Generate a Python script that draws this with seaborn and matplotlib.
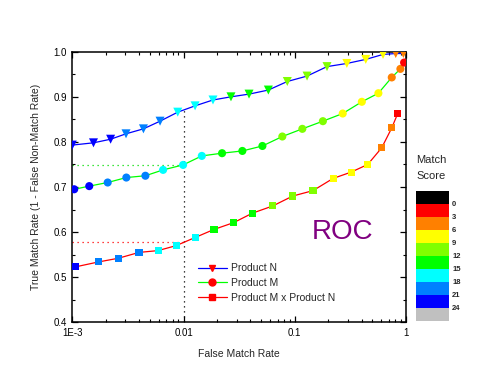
import numpy as np
import pandas as pd
import matplotlib
matplotlib.use("Agg")
import matplotlib.pyplot as plt
from matplotlib.colors import ListedColormap
from matplotlib.lines import Line2D
from matplotlib.ticker import LogLocator, MultipleLocator, FixedLocator, FixedFormatter, NullFormatter
import seaborn as sns

############ data ############
# false match rate / true match rate / match score threshold of every point
n_fmr = [0.001, 0.00155, 0.00221, 0.00304, 0.00436, 0.00615, 0.00887, 0.0127, 0.0184, 0.0267,
         0.0388, 0.0579, 0.0857, 0.129, 0.195, 0.294, 0.435, 0.622, 0.809, 0.948]
n_tmr = [0.793, 0.798, 0.806, 0.818, 0.829, 0.846, 0.866, 0.880, 0.893, 0.900,
         0.906, 0.915, 0.934, 0.946, 0.967, 0.974, 0.983, 0.994, 0.996, 0.996]
n_score = [23, 22, 21, 20, 19, 18, 17, 16, 15, 14, 13, 12, 11, 10, 9, 8, 7, 6, 5, 4]

m_fmr = [0.00104, 0.00142, 0.00208, 0.00306, 0.00454, 0.00655, 0.00991, 0.0146, 0.0222, 0.0338,
         0.0512, 0.0773, 0.117, 0.179, 0.270, 0.401, 0.565, 0.745, 0.891, 0.962]
m_tmr = [0.695, 0.702, 0.710, 0.721, 0.725, 0.738, 0.749, 0.769, 0.775, 0.780,
         0.791, 0.812, 0.829, 0.846, 0.863, 0.889, 0.908, 0.943, 0.962, 0.976]
m_score = [22, 21, 20, 19, 18, 17, 16, 15, 14, 13, 12, 11, 10, 9, 8, 7, 6, 5, 4, 2]

mn_fmr = [0.00107, 0.00173, 0.00259, 0.00398, 0.00590, 0.00857, 0.0127, 0.0188, 0.0282, 0.0416,
          0.0634, 0.0959, 0.146, 0.221, 0.321, 0.453, 0.605, 0.745, 0.843]
mn_tmr = [0.523, 0.534, 0.542, 0.555, 0.559, 0.570, 0.588, 0.606, 0.621, 0.642,
          0.658, 0.680, 0.692, 0.719, 0.733, 0.750, 0.787, 0.831, 0.863]
mn_score = [21, 20, 19, 18, 17, 16, 15, 14, 13, 12, 11, 10, 9, 8, 7, 6, 5, 4, 2]

products = ["Product N", "Product M", "Product M x Product N"]
line_colors = ["#0000FF", "#00FF00", "#FF0000"]
markers = ["v", "o", "s"]
msizes = [42, 34, 26]

# colour scale, top to bottom (black on top, grey at the bottom)
scale_colors = ["#000000", "#FF0000", "#FF8000", "#FFFF00", "#80FF00",
                "#00FF00", "#00FFFF", "#0080FF", "#0000FF", "#C0C0C0"]
scale_labels = ["0", "3", "6", "9", "12", "15", "18", "21", "24"]
# bin k (score in [3k, 3k+3)) -> colour
bin_colors = {k: scale_colors[k + 1] for k in range(9)}

frames = []
for name, x, y, s in [(products[0], n_fmr, n_tmr, n_score),
                      (products[1], m_fmr, m_tmr, m_score),
                      (products[2], mn_fmr, mn_tmr, mn_score)]:
    d = pd.DataFrame({"fmr": x, "tmr": y, "score": s})
    d["product"] = name
    d["bin"] = d["score"] // 3
    frames.append(d)
data = pd.concat(frames, ignore_index=True)

############ plot ############
sns.set_style("ticks")
plt.rcParams["font.family"] = ["Liberation Sans", "DejaVu Sans"]

fig = plt.figure(figsize=(4.96, 3.86), dpi=100)
ax = fig.add_axes([0.1458, 0.165, 0.6727, 0.701])

for i, name in enumerate(products):
    d = data[data["product"] == name]
    sns.lineplot(data=d, x="fmr", y="tmr", color=line_colors[i], lw=0.9,
                 sort=False, estimator=None, ax=ax, zorder=2)
    sns.scatterplot(data=d, x="fmr", y="tmr", hue="bin", palette=bin_colors,
                    marker=markers[i], s=msizes[i], linewidth=0, legend=False,
                    ax=ax, zorder=3)

ax.set_xscale("log")
ax.set_xlim(1e-3, 1)
ax.set_ylim(0.4, 1.0)

# dotted guides at FMR = 0.01
lx = np.log10(0.01)
y_n = np.interp(lx, np.log10(n_fmr), n_tmr)
y_m = np.interp(lx, np.log10(m_fmr), m_tmr)
y_mn = np.interp(lx, np.log10(mn_fmr), mn_tmr)
ax.plot([0.01, 0.01], [0.4, y_n], color="black", ls=(0, (1, 3)), lw=0.9, zorder=1)
ax.plot([1e-3, 0.01], [y_m, y_m], color="#00DD00", ls=(0, (1, 3)), lw=0.9, zorder=1)
ax.plot([1e-3, 0.01], [y_mn, y_mn], color="#FF0000", ls=(0, (1, 3)), lw=0.9, zorder=1)

ax.xaxis.set_major_locator(FixedLocator([1e-3, 1e-2, 1e-1, 1]))
ax.xaxis.set_major_formatter(FixedFormatter(["1E-3", "0.01", "0.1", "1"]))
ax.xaxis.set_minor_locator(LogLocator(base=10, subs=np.arange(2, 10)))
ax.xaxis.set_minor_formatter(NullFormatter())
ax.yaxis.set_major_locator(MultipleLocator(0.1))
ax.yaxis.set_minor_locator(MultipleLocator(0.05))
ax.yaxis.set_major_formatter(plt.FormatStrFormatter("%.1f"))

for sp in ax.spines.values():
    sp.set_visible(True)
    sp.set_linewidth(1.1)
    sp.set_color("black")
ax.tick_params(which="both", direction="in", top=True, right=True, colors="black")
ax.tick_params(which="major", length=4, width=0.9, labelsize=7, pad=4)
ax.tick_params(which="minor", length=2.3, width=0.8)

ax.set_xlabel("False Match Rate", fontsize=7.5, labelpad=8)
ax.set_ylabel("True Match Rate (1 - False Non-Match Rate)", fontsize=7.5, labelpad=9)

ax.text(0.81, 0.334, "ROC", transform=ax.transAxes, color="#800080",
        fontsize=20, ha="center", va="center")

handles = [Line2D([], [], color=line_colors[i], lw=0.9, marker=markers[i],
                  markerfacecolor="#FF0000", markeredgecolor="#FF0000", markersize=5)
           for i in range(3)]
fig.legend(handles, products, loc="upper left", bbox_to_anchor=(0.399, 0.318),
           frameon=False, fontsize=7.5, handlelength=2.8, handletextpad=0.4,
           labelspacing=0.45, borderpad=0, borderaxespad=0)

############ match score scale ############
cax = fig.add_axes([0.8387, 0.1692, 0.0671, 0.3368])
scale = np.arange(len(scale_colors)).reshape(-1, 1)
sns.heatmap(scale, cmap=ListedColormap(scale_colors), cbar=False,
            xticklabels=False, yticklabels=False, ax=cax)
cax.set_yticks(np.arange(1, len(scale_colors)))
cax.set_yticklabels(scale_labels, fontsize=5.5, fontweight="bold")
cax.yaxis.tick_right()
cax.tick_params(axis="y", length=0, pad=2)
fig.text(0.8387, 0.586, "Match", fontsize=8, ha="left", va="center")
fig.text(0.8387, 0.545, "Score", fontsize=8, ha="left", va="center")

fig.savefig("out.png", dpi=100)
